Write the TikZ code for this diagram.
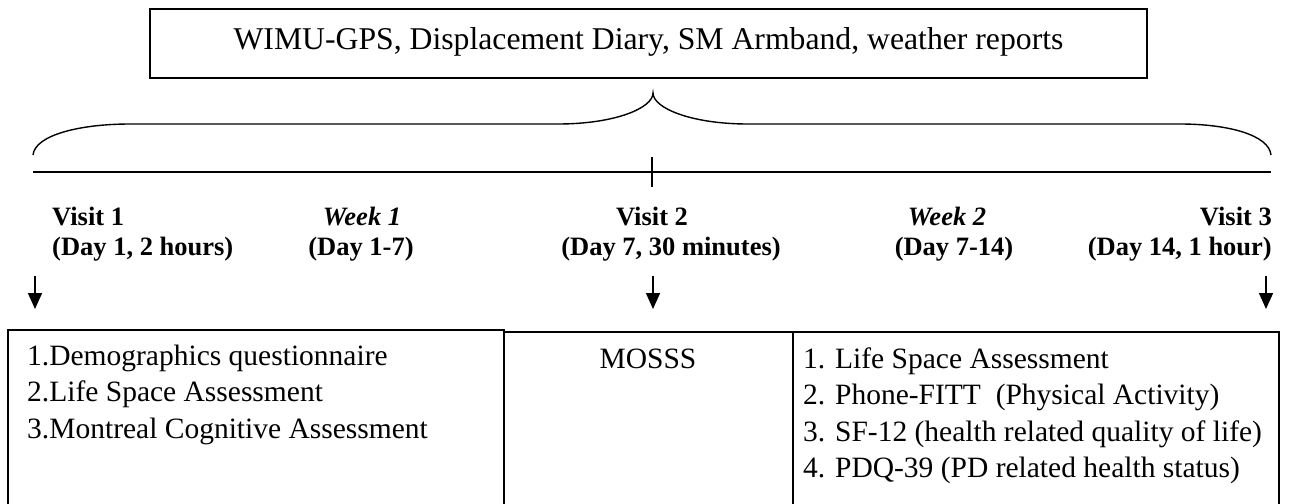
\documentclass[tikz,border=0pt]{standalone}
\usepackage{fontspec}
\setmainfont{Liberation Serif}
\usetikzlibrary{arrows.meta}
\begin{document}
\begin{tikzpicture}[x=1pt,y=-1pt,
  frame/.style={draw, line width=1.8pt, rectangle, inner sep=0pt},
  boxtxt/.style={font=\fontsize{29.5}{36.5}\selectfont, inner sep=0pt, anchor=base west},
  lbl/.style={font=\fontsize{26.5}{30}\selectfont\bfseries, inner sep=0pt},
  wk/.style={font=\fontsize{26.5}{30}\selectfont\bfseries\itshape, inner sep=0pt, anchor=base},
  darrow/.style={-{Triangle[width=14pt,length=16pt]}, line width=1.5pt},
  thinline/.style={line width=1.4pt}]

\useasboundingbox (0,0) rectangle (1289,503);
\clip (0,0) rectangle (1289,503);
\fill[white] (0,0) rectangle (1289,503);

% top box
\node[frame, minimum width=997pt, minimum height=69pt] (top) at (648.5,43.5) {};
\node[inner sep=0pt, anchor=base, font=\fontsize{31.7}{36}\selectfont] (toptxt) at (648.5,49) {WIMU-GPS, Displacement Diary, SM Armband, weather reports};

% brace
\coordinate (bl) at (33,155);
\coordinate (tip) at (653,93);
\coordinate (br) at (1271,155);
\draw[thinline] (bl) .. controls (35,135) and (80,124) .. (130,124) -- (558,124)
  .. controls (615,124) and (653,108) .. (tip)
  .. controls (653,108) and (691,124) .. (748,124) -- (1180,124)
  .. controls (1228,124) and (1269,135) .. (br);

% timeline
\coordinate (tl) at (33,172);
\coordinate (tr) at (1271,172);
\draw[line width=2pt] (tl) -- (tr);
\coordinate (tk1) at (652,157);
\coordinate (tk2) at (652,187);
\draw[thinline] (tk1) -- (tk2);

% labels
\node[lbl, anchor=base west] (v1) at (52,225) {Visit 1};
\node[lbl, anchor=base west] (v1d) at (52,255) {(Day 1, 2 hours)};
\node[wk] (w1) at (362,225) {Week 1};
\node[lbl, anchor=base] (w1d) at (361,255) {(Day 1-7)};
\node[lbl, anchor=base] (v2) at (652,225) {Visit 2};
\node[lbl, anchor=base] (v2d) at (671,255) {(Day 7, 30 minutes)};
\node[wk] (w2) at (947,225) {Week 2};
\node[lbl, anchor=base] (w2d) at (954,255) {(Day 7-14)};
\node[lbl, anchor=base east] (v3) at (1272,225) {Visit 3};
\node[lbl, anchor=base east] (v3d) at (1272,255) {(Day 14, 1 hour)};

% arrows
\coordinate (a1s) at (35,276);
\coordinate (a1e) at (35,309);
\coordinate (a2s) at (653,276);
\coordinate (a2e) at (653,309);
\coordinate (a3s) at (1266,276);
\coordinate (a3e) at (1266,309);
\draw[darrow] (a1s) -- (a1e);
\draw[darrow] (a2s) -- (a2e);
\draw[darrow] (a3s) -- (a3e);

% bottom boxes
\node[frame, anchor=north west, minimum width=496pt, minimum height=191pt] (b1) at (7,329) {};
\node[frame, anchor=north west, minimum width=289pt, minimum height=191pt] (b2) at (503,331) {};
\node[frame, anchor=north west, minimum width=486pt, minimum height=191pt] (b3) at (792,331) {};

\node[boxtxt] (l1) at (27,365) {1.Demographics questionnaire};
\node[boxtxt] (l2) at (27,401.5) {2.Life Space Assessment};
\node[boxtxt] (l3) at (27,438) {3.Montreal Cognitive Assessment};

\node[boxtxt, anchor=base] (m1) at (648,368) {MOSSS};

\node[boxtxt] (r1) at (803,368) {1. Life Space Assessment};
\node[boxtxt] (r2) at (803,404.5) {2. Phone-FITT\ \ (Physical Activity)};
\node[boxtxt] (r3) at (803,441) {3. SF-12 (health related quality of life)};
\node[boxtxt] (r4) at (803,477.5) {4. PDQ-39 (PD related health status)};
\end{tikzpicture}
\end{document}
